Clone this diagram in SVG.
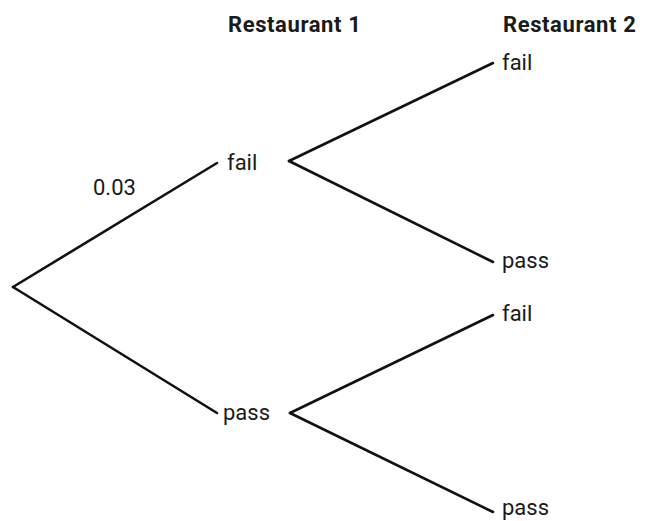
<svg xmlns="http://www.w3.org/2000/svg" width="645" height="521" viewBox="0 0 645 521">
<style>
.t{font-family:Roboto,"Liberation Sans",sans-serif;font-size:22px;fill:#1a1a1a}
.h{font-family:Roboto,"Liberation Sans",sans-serif;font-size:22px;font-weight:bold;fill:#1a1a1a;letter-spacing:0.6px}
.c line{stroke:#111;stroke-width:2.6;stroke-linecap:round}
</style>
<rect width="645" height="521" fill="#fff"/>
<g id="headers">
<text class="h" x="228" y="32">Restaurant 1</text>
<text class="h" x="503" y="32">Restaurant 2</text>
</g>
<g class="c" id="connectors">
<line x1="13" y1="287" x2="217" y2="163"/>
<line x1="13" y1="287" x2="217" y2="413"/>
<line x1="289" y1="161" x2="493" y2="63"/>
<line x1="289" y1="161" x2="493" y2="262"/>
<line x1="290" y1="413" x2="493" y2="315"/>
<line x1="290" y1="413" x2="493" y2="512"/>
</g>
<g id="label-003"><text class="t" x="93" y="195">0.03</text></g>
<g id="r1-fail"><text class="t" x="227" y="170">fail</text></g>
<g id="r1-pass"><text class="t" x="223" y="420">pass</text></g>
<g id="r2-fail-1"><text class="t" x="502" y="70">fail</text></g>
<g id="r2-pass-1"><text class="t" x="502" y="268">pass</text></g>
<g id="r2-fail-2"><text class="t" x="502" y="321">fail</text></g>
<g id="r2-pass-2"><text class="t" x="502" y="515">pass</text></g>
</svg>
